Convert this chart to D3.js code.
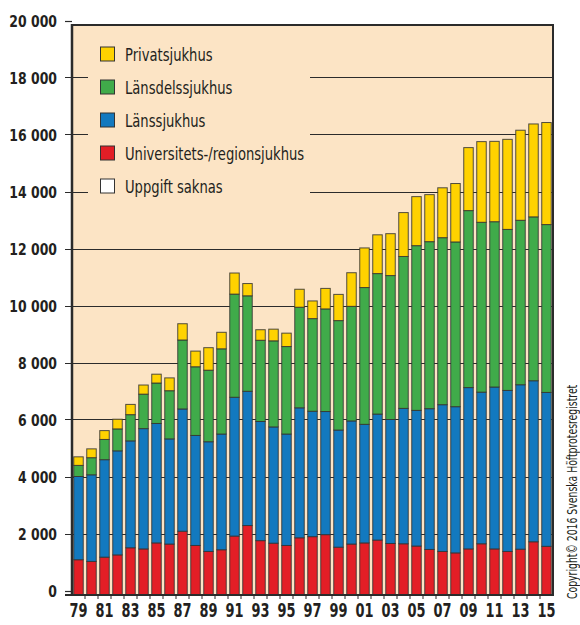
<!DOCTYPE html>
<html>
<head>
<meta charset="utf-8">
<script src="https://cdn.jsdelivr.net/npm/d3@7"></script>
<style>
  html, body { margin:0; padding:0; background:#fff; }
  svg { display:block; }
  text { font-family:"DejaVu Sans Condensed","DejaVu Sans",sans-serif; fill:#231f20; }
</style>
</head>
<body>
<svg id="chart" width="580" height="625"></svg>
<script>
// Data (number of operations per year, by hospital type)
const years = d3.range(1979, 2016);
const univ     = [1080,1020,1170,1250,1500,1460,1670,1630,2080,1580,1370,1430,1910,2280,1750,1660,1580,1850,1890,1960,1520,1630,1670,1770,1650,1640,1560,1440,1370,1320,1460,1640,1460,1370,1450,1710,1550];
const lans     = [2920,3040,3420,3650,3750,4220,4190,3690,4290,3860,3850,4060,4870,4710,4180,4080,3910,4560,4400,4320,4110,4320,4160,4420,4350,4750,4760,4940,5150,5130,5660,5320,5680,5650,5770,5650,5400];
const lansdels = [390,600,710,770,920,1210,1420,1690,2420,2410,2510,2990,3620,3350,2850,3020,3070,3530,3250,3600,3840,4020,4800,4930,5050,5330,5780,5860,5860,5780,6210,5960,5800,5650,5770,5750,5890];
const privat   = [300,310,310,340,360,320,310,450,570,550,790,580,740,430,370,410,470,630,620,720,920,1180,1390,1360,1470,1540,1720,1650,1750,2050,2210,2830,2820,3160,3160,3260,3580];
const saknas   = years.map(() => 0);

const yTicks = d3.range(0, 20001, 2000);
const legendItems = [
  { key:'privat',   label:'Privatsjukhus' },
  { key:'lansdels', label:'Länsdelssjukhus' },
  { key:'lans',     label:'Länssjukhus' },
  { key:'univ',     label:'Universitets-/regionsjukhus' },
  { key:'saknas',   label:'Uppgift saknas' }
];

const colors = { univ:'#e31e26', lans:'#1379bf', lansdels:'#40ab4a', privat:'#ffd200', saknas:'#ffffff' };
const peach = '#fce4c5';
const ink = '#2b2b2b';

const rows = years.map((yr, i) => ({ year:yr, univ:univ[i], lans:lans[i], lansdels:lansdels[i], privat:privat[i], saknas:saknas[i] }));
const keys = ['univ','lans','lansdels','privat','saknas'];
const series = d3.stack().keys(keys)(rows);

// layout
const plotL = 72, plotR = 553, plotT = 25, axisY = 595;
const svg = d3.select('#chart');

const x = d3.scaleBand().domain(years).range([plotL, plotR]).paddingInner(0.27).paddingOuter(0.135);
const y = d3.scaleLinear().domain([0, 20000]).range([590.5, 20.5]);

const sv = d3.formatLocale({ decimal:',', thousands:' ', grouping:[3], currency:['',''] }).format(',');

// the original uses a condensed face; squeeze DejaVu horizontally
const squeeze = (tx, ty, sx) => `translate(${tx},${ty}) scale(${sx},1)`;

// plot background
svg.append('rect').attr('x', plotL).attr('y', plotT).attr('width', plotR - plotL).attr('height', axisY - plotT).attr('fill', peach);

// gridlines + left ticks
svg.append('g').selectAll('line')
  .data(yTicks.filter(t => t > 0 && t < 20000))
  .join('line')
  .attr('x1', plotL - 7).attr('x2', plotR)
  .attr('y1', d => Math.round(y(d)) + 0.5).attr('y2', d => Math.round(y(d)) + 0.5)
  .attr('stroke', ink).attr('stroke-width', 1.2);

svg.append('g').selectAll('line')
  .data([0, 20000])
  .join('line')
  .attr('x1', plotL - 7).attr('x2', plotL)
  .attr('y1', d => Math.round(y(d)) + 0.5).attr('y2', d => Math.round(y(d)) + 0.5)
  .attr('stroke', ink).attr('stroke-width', 1.2);

// y labels
svg.append('g').selectAll('text')
  .data(yTicks)
  .join('text')
  .attr('transform', d => squeeze(57, y(d) + 6, 0.84))
  .attr('text-anchor', 'end')
  .attr('font-size', 16.5).attr('font-weight', 'bold')
  .text(d => sv(d));

// legend backdrop (hides gridlines behind legend)
svg.append('rect').attr('x', 88).attr('y', plotT + 2).attr('width', 222).attr('height', 178).attr('fill', peach);

// bars
const bw = x.bandwidth();
svg.append('g').selectAll('g')
  .data(series.filter(s => s.key !== 'saknas'))
  .join('g')
  .attr('fill', s => colors[s.key])
  .selectAll('rect')
  .data(s => s.map(d => ({ d, key:s.key })))
  .join('rect')
  .attr('x', o => x(o.d.data.year))
  .attr('width', bw)
  .attr('y', o => y(o.d[1]))
  .attr('height', o => (o.key === 'univ' ? axisY : y(o.d[0])) - y(o.d[1]))
  .attr('stroke', '#333').attr('stroke-opacity', 0.85).attr('stroke-width', 1);

// frame
svg.append('line').attr('x1', plotL).attr('x2', plotR + 1).attr('y1', plotT).attr('y2', plotT).attr('stroke', ink).attr('stroke-width', 2);
svg.append('line').attr('x1', plotL).attr('x2', plotL).attr('y1', plotT - 1).attr('y2', axisY + 1).attr('stroke', ink).attr('stroke-width', 2.5);
svg.append('line').attr('x1', plotR).attr('x2', plotR).attr('y1', plotT - 1).attr('y2', axisY + 1).attr('stroke', ink).attr('stroke-width', 2);
svg.append('line').attr('x1', plotL - 7).attr('x2', plotR + 1).attr('y1', axisY).attr('y2', axisY).attr('stroke', ink).attr('stroke-width', 2);

// x ticks at band boundaries
const step = x.step();
svg.append('g').selectAll('line')
  .data(years.slice(1))
  .join('line')
  .attr('x1', d => x(d) - (step - bw) / 2).attr('x2', d => x(d) - (step - bw) / 2)
  .attr('y1', axisY).attr('y2', axisY + 4)
  .attr('stroke', ink).attr('stroke-width', 1);

// x labels, every other year
svg.append('g').selectAll('text')
  .data(years.filter(yr => yr % 2 === 1))
  .join('text')
  .attr('transform', d => squeeze(x(d) + bw / 2, 617, 0.72))
  .attr('text-anchor', 'middle')
  .attr('font-size', 20).attr('font-weight', 'bold')
  .text(d => String(d % 100).padStart(2, '0'));

// legend
const lg = svg.append('g').selectAll('g')
  .data(legendItems)
  .join('g')
  .attr('transform', (d, i) => `translate(100,${54 + i * 33})`);
lg.append('rect').attr('x', 0.5).attr('y', -7).attr('width', 14).attr('height', 14)
  .attr('fill', d => colors[d.key]).attr('stroke', '#333').attr('stroke-width', 1);
lg.append('text')
  .attr('transform', squeeze(25, 6.5, 0.79))
  .attr('font-size', 18.5).attr('font-weight', 500)
  .text(d => d.label);

// copyright, vertical
svg.append('text')
  .attr('transform', 'translate(577,599) rotate(-90) scale(0.74,1)')
  .attr('font-size', 14)
  .text('Copyright© 2016 Svenska Höftprotesregistret');
</script>
</body>
</html>
